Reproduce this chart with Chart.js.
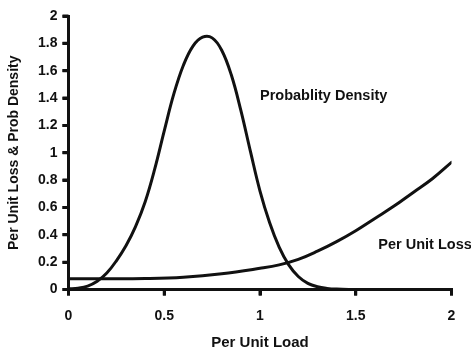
<!DOCTYPE html>
<html>
<head>
<meta charset="utf-8">
<script src="https://cdn.jsdelivr.net/npm/chart.js@4.4.1/dist/chart.umd.min.js"></script>
<style>
html, body { margin: 0; padding: 0; background: #fff; }
#chart { display: block; }
</style>
</head>
<body>
<canvas id="chart" width="471" height="351"></canvas>
<script>
// values
DENSITY_X = [0, 0.05, 0.1, 0.15, 0.2, 0.25, 0.3, 0.35, 0.4, 0.45, 0.5, 0.55, 0.6, 0.65, 0.7, 0.75, 0.8, 0.85, 0.9, 0.95, 1.0, 1.05, 1.1, 1.15, 1.2, 1.25, 1.3, 1.35, 1.4, 1.5]
DENSITY_Y = [0.005, 0.01, 0.025, 0.06, 0.12, 0.21, 0.32, 0.46, 0.64, 0.88, 1.16, 1.43, 1.64, 1.78, 1.845, 1.84, 1.75, 1.57, 1.31, 1.01, 0.72, 0.49, 0.31, 0.18, 0.095, 0.045, 0.02, 0.008, 0.003, 0]

LOSS_X = [0, 0.2, 0.4, 0.6, 0.8, 1.0, 1.1, 1.2, 1.3, 1.4, 1.5, 1.6, 1.7, 1.8, 1.9, 2.0]
LOSS_Y = [0.078, 0.078, 0.08, 0.09, 0.115, 0.155, 0.18, 0.22, 0.28, 0.35, 0.43, 0.52, 0.61, 0.71, 0.81, 0.93]

X_TICKS = [0, 0.5, 1, 1.5, 2]
Y_TICKS = [0, 0.2, 0.4, 0.6, 0.8, 1, 1.2, 1.4, 1.6, 1.8, 2]

// curve labels, anchored in data units (left edge, baseline)
NOTE_TEXT = ["Probablity Density", "Per Unit Loss"]
NOTE_X = [1.0, 1.618]
NOTE_Y = [1.386, 0.296]

FONT = "'Liberation Sans', Arial, sans-serif"
TICK_LEN = 6

function toPoints(xs, ys)
{
    var pts = []
    for (var i = 0; i < xs.length; i++)
        pts.push({x: xs[i], y: ys[i]})
    return pts
}

function lineSet(label, xs, ys)
{
    return {
        label: label,
        data: toPoints(xs, ys),
        showLine: true,
        borderColor: "#111",
        borderWidth: 3,
        borderCapStyle: "round",
        borderJoinStyle: "round",
        pointRadius: 0,
        tension: 0.4,
        fill: false
    }
}

var notesPlugin = {
    id: "notes",
    afterDatasetsDraw: function(chart) {
        var ctx = chart.ctx
        var sx = chart.scales.x
        var sy = chart.scales.y
        ctx.save()
        ctx.fillStyle = "#111"
        ctx.font = "bold 14.5px " + FONT
        ctx.textAlign = "left"
        ctx.textBaseline = "alphabetic"
        for (var i = 0; i < NOTE_TEXT.length; i++)
            ctx.fillText(NOTE_TEXT[i], sx.getPixelForValue(NOTE_X[i]), sy.getPixelForValue(NOTE_Y[i]))

        // outward tick marks on both axes
        var area = chart.chartArea
        ctx.strokeStyle = "#111"
        ctx.lineWidth = 3
        ctx.beginPath()
        X_TICKS.forEach(function(v) {
            var px = sx.getPixelForValue(v)
            ctx.moveTo(px, area.bottom)
            ctx.lineTo(px, area.bottom + TICK_LEN)
        })
        Y_TICKS.forEach(function(v) {
            var py = sy.getPixelForValue(v)
            ctx.moveTo(area.left, py)
            ctx.lineTo(area.left - TICK_LEN, py)
        })
        ctx.stroke()
        ctx.restore()
    }
}

function axisOpts(ticks, title, min, max)
{
    return {
        type: "linear",
        min: min,
        max: max,
        afterBuildTicks: function(scale) {
            scale.ticks = ticks.map(function(v) { return {value: v} })
        },
        ticks: {
            color: "#111",
            font: {family: FONT, size: 14, weight: "bold"},
            callback: function(v) { return String(v) }
        },
        grid: {
            display: true,
            drawOnChartArea: false,
            drawTicks: true,
            color: "#111",
            lineWidth: 3,
            tickLength: TICK_LEN,
            tickWidth: 3,
            tickColor: "#111"
        },
        border: {display: true, color: "#111", width: 3},
        title: {
            display: true,
            text: title,
            color: "#111",
            font: {family: FONT, size: 15, weight: "bold"}
        }
    }
}

var xOpts = axisOpts(X_TICKS, "Per Unit Load", 0, 2)
xOpts.ticks.padding = 12
xOpts.ticks.maxRotation = 0
xOpts.title.padding = {top: 4, bottom: -1}
xOpts.afterFit = function(scale) { scale.height = 61.5 }

var yOpts = axisOpts(Y_TICKS, "Per Unit Loss & Prob Density", 0, 2)
yOpts.ticks.padding = 5
yOpts.title.font.size = 14
yOpts.title.padding = {top: 6, bottom: 0}
yOpts.afterFit = function(scale) { scale.width = 68.5 }

new Chart(document.getElementById("chart"), {
    type: "scatter",
    data: {
        datasets: [
            lineSet("Probability Density", DENSITY_X, DENSITY_Y),
            lineSet("Per Unit Loss", LOSS_X, LOSS_Y)
        ]
    },
    options: {
        responsive: false,
        animation: false,
        devicePixelRatio: 1,
        layout: {padding: {top: 16, right: 19.5, bottom: 0, left: 0}},
        plugins: {
            legend: {display: false},
            tooltip: {enabled: false}
        },
        scales: {x: xOpts, y: yOpts}
    },
    plugins: [notesPlugin]
})
</script>
</body>
</html>
